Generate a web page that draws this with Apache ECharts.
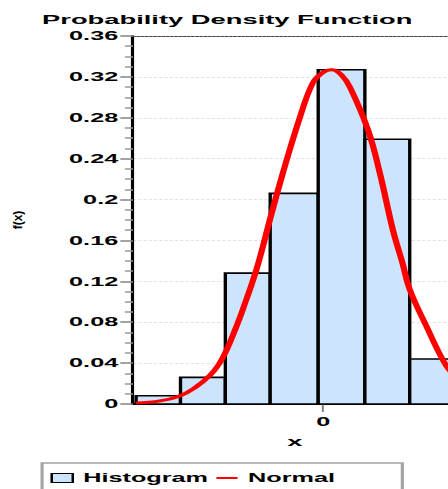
<!DOCTYPE html>
<html>
<head>
<meta charset="utf-8">
<script src="https://cdn.jsdelivr.net/npm/echarts@6/dist/echarts.min.js"></script>
<style>
html,body{margin:0;padding:0;background:#fff;overflow:hidden;width:448px;height:489px;}
#c{width:213px;height:489px;transform:scaleX(2.10329);transform-origin:0 0;}
</style>
</head>
<body>
<div id="c"></div>
<script>
// ---- data ----
const binEdges = [-4.13, -3.15, -2.16, -1.17, -0.11, 0.92, 1.91, 2.91];
const binDensity = [0.008, 0.026, 0.128, 0.206, 0.327, 0.259, 0.044];
const curveX = [-4.13, -3.6, -3.16, -2.83, -2.50, -2.30, -2.13, -1.95, -1.77, -1.47, -1.16, -0.89, -0.51, -0.23, -0.02, 0.19, 0.40, 0.59, 0.99, 1.25, 1.54, 1.75, 1.91, 2.28, 2.72, 2.95];
const curveY = [0.001, 0.003, 0.008, 0.016, 0.028, 0.039, 0.053, 0.072, 0.093, 0.132, 0.183, 0.226, 0.281, 0.314, 0.324, 0.327, 0.322, 0.310, 0.268, 0.226, 0.170, 0.138, 0.112, 0.076, 0.037, 0.026];
const xTickValues = [0];
const yMin = 0, yMax = 0.36, yStep = 0.04;
const xMin = -4.2, xMax = 2.95;
const titleText = 'Probability Density Function';
const xName = 'x', yName = 'f(x)';
const seriesNames = ['Histogram', 'Normal'];

const S = 2.10329;
const FONT = 'Liberation Sans, Arial, sans-serif';

const histData = binDensity.map((h, i) => [binEdges[i], binEdges[i + 1], h]);
const curveData = curveX.map((x, i) => [x, curveY[i]]);

const chart = echarts.init(document.getElementById('c'), null, {renderer: 'svg'});
chart.setOption({
  animation: false,
  backgroundColor: '#fff',
  title: {
    text: titleText, left: 20, top: 13, padding: 0,
    textStyle: {fontFamily: FONT, fontSize: 13, fontWeight: 'bold', color: '#000'}
  },
  legend: {
    left: 20, top: 463,
    orient: 'horizontal',
    borderColor: '#a3a3a3', borderWidth: 1.5,
    padding: [9, 32, 12, 4],
    itemWidth: 10, itemHeight: 9, itemGap: 4,
    textStyle: {fontFamily: FONT, fontSize: 12, fontWeight: 'bold', color: '#000'},
    data: [
      {name: seriesNames[0], icon: 'rect', itemStyle: {color: '#cce5fc', borderColor: '#000', borderWidth: 1.2}},
      {name: seriesNames[1], icon: 'path://M0,0 M10,9 M0,3.5 L10,3.5 L10,5.5 L0,5.5 Z', itemStyle: {color: '#ff0000', borderWidth: 0}}
    ]
  },
  grid: {left: 63.2, top: 36, width: 154, bottom: 85, containLabel: false, outerBoundsMode: 'none'},
  xAxis: [{
    type: 'value', min: xMin, max: xMax,
    name: xName, nameLocation: 'middle', nameGap: 31,
    nameTextStyle: {fontFamily: FONT, fontSize: 13, fontWeight: 'bold', color: '#000'},
    axisLine: {show: true, onZero: false, lineStyle: {color: '#000', width: 2}},
    axisTick: {show: true, customValues: xTickValues, length: 8, lineStyle: {color: '#888', width: 1}},
    axisLabel: {show: true, customValues: xTickValues, margin: 12,
      fontFamily: FONT, fontSize: 12, fontWeight: 'bold', color: '#000'},
    splitLine: {show: false}
  }, {
    type: 'value', min: xMin, max: xMax, position: 'top',
    axisLine: {show: true, onZero: false, lineStyle: {color: '#444', width: 1, type: [1, 1]}},
    axisTick: {show: false}, axisLabel: {show: false}, splitLine: {show: false}
  }],
  yAxis: {
    type: 'value', min: yMin, max: yMax, interval: yStep,
    name: yName, nameLocation: 'middle', nameRotate: 90, nameGap: 52,
    nameTextStyle: {fontFamily: FONT, fontSize: 12, fontWeight: 'bold', color: '#000'},
    axisLine: {show: true, onZero: false, lineStyle: {color: '#000', width: 1.5}},
    axisTick: {show: true, length: 6, lineStyle: {color: '#858585', width: 1.5}},
    minorTick: {show: true, splitNumber: 4, length: 3.8, lineStyle: {color: '#9a9a9a', width: 1.5}},
    axisLabel: {margin: 7, fontFamily: FONT, fontSize: 12, fontWeight: 'bold', color: '#000'},
    splitLine: {show: true, lineStyle: {color: '#e2e2e2', width: 1, type: [1.5, 1]}}
  },
  series: [{
    name: seriesNames[0],
    type: 'custom',
    xAxisIndex: 0,
    itemStyle: {color: '#cce5fc', borderColor: '#000', borderWidth: 1.6},
    encode: {x: [0, 1], y: 2},
    data: histData,
    renderItem: function (params, api) {
      const p0 = api.coord([api.value(0), api.value(2)]);
      const p1 = api.coord([api.value(1), 0]);
      return {
        type: 'rect',
        shape: {x: p0[0], y: p0[1], width: p1[0] - p0[0], height: p1[1] - p0[1]},
        style: {fill: '#cce5fc', stroke: '#000', lineWidth: 1.6}
      };
    },
    z: 2
  }, {
    name: seriesNames[1],
    type: 'line',
    xAxisIndex: 0,
    data: curveData,
    smooth: 0.4,
    symbol: 'none',
    showSymbol: false,
    lineStyle: {color: '#ff0000', width: 3},
    itemStyle: {color: '#ff0000'},
    z: 3
  }]
});

// keep the rotated y-axis name from being widened by the horizontal stretch
(function fixRotated() {
  const texts = document.querySelectorAll('#c svg text');
  texts.forEach(t => {
    if (t.textContent === yName) {
      const tr = t.getAttribute('transform') || '';
      const m = tr.match(/matrix\(([^)]+)\)/);
      if (m) {
        const v = m[1].split(/[ ,]+/).map(Number);
        const e = v[4];
        t.setAttribute('transform', 'translate(' + e + ',0) scale(' + (1 / S) + ',1) translate(' + (-e) + ',0) ' + tr);
      }
    }
  });
})();
</script>
</body>
</html>
